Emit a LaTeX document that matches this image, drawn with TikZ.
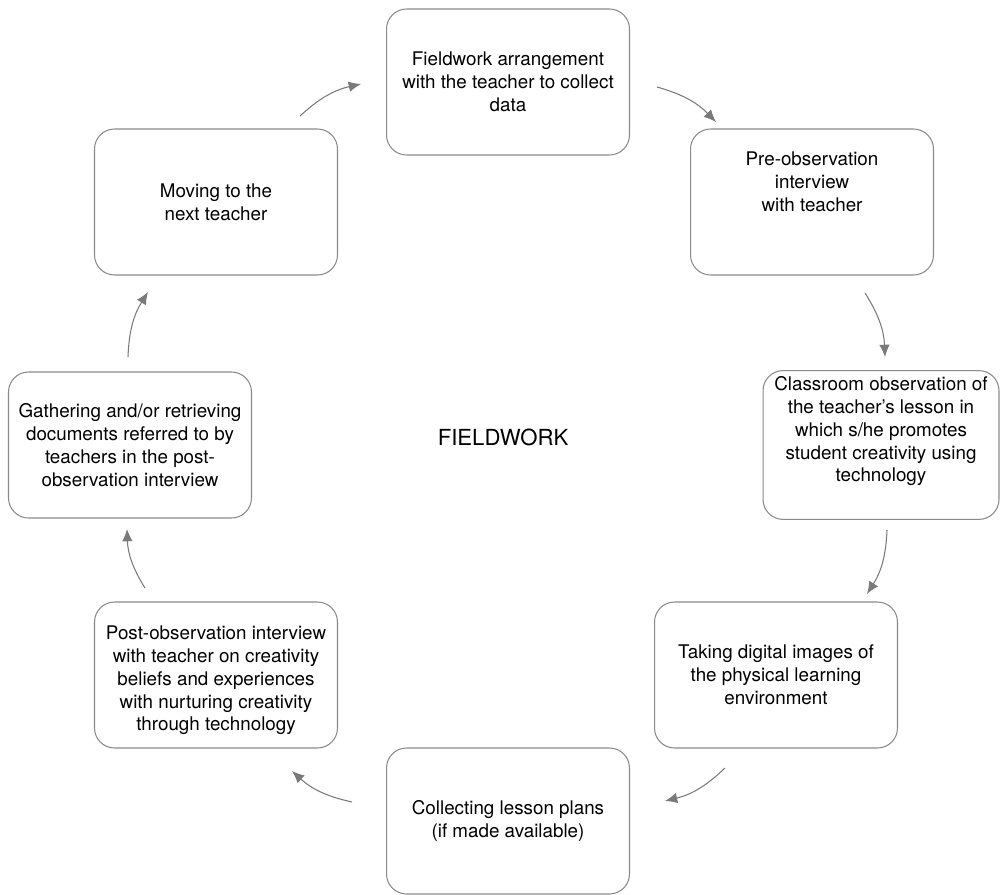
\documentclass[tikz,border=0pt]{standalone}
\usepackage{fontspec}
\setmainfont{TeX Gyre Heros}
\usetikzlibrary{arrows.meta,positioning}
\usepackage{xcolor}
\definecolor{boxline}{HTML}{8A8A8A}
\definecolor{arrowline}{HTML}{7A7A7A}

\begin{document}
\begin{tikzpicture}[
            x = 0.02cm,
            y = -0.02cm,
            stage/.style={
                draw = boxline,
                line width = 0.6pt,
                rectangle,
                rounded corners = 0.4cm,
                minimum width = 4.86cm,
                minimum height = 2.92cm,
                align = center,
                font = \fontsize{10.7}{13}\selectfont
            },
            flow/.style={
                draw = arrowline,
                line width = 0.6pt,
                -{Latex[length=7pt,width=6pt]},
                bend left = 15
            }
        ]
        \useasboundingbox (0,0) rectangle (1000,895);

        \node[stage] (arrange) at (508,82) {Fieldwork arrangement\\with the teacher to collect\\data};
        \node[stage] (preobs) at (812,202) {Pre-observation\\interview\\with teacher\rule[-23pt]{0pt}{23pt}};
        \node[stage, minimum width = 4.72cm] (classobs) at (881,445) {Classroom observation of\\the teacher’s lesson in\\which s/he promotes\\student creativity using\\technology\rule[-18pt]{0pt}{18pt}};
        \node[stage] (images) at (776,675) {Taking digital images of\\the physical learning\\environment};
        \node[stage] (plans) at (508,821) {Collecting lesson plans\\(if made available)};
        \node[stage] (postobs) at (216,675) {\rule{0pt}{14pt}Post-observation interview\\with teacher on creativity\\beliefs and experiences\\with nurturing creativity\\through technology};
        \node[stage] (documents) at (130,445) {Gathering and/or retrieving\\documents referred to by\\teachers in the post-\\observation interview};
        \node[stage] (nextteacher) at (216,202) {Moving to the\\next teacher};

        \node[font = \fontsize{12.6}{15}\selectfont] (fieldwork) at (503,437) {FIELDWORK};

        \coordinate (a1s) at (300,116);
        \coordinate (a1e) at (361,84);
        \coordinate (a2s) at (657,87);
        \coordinate (a2e) at (716,122);
        \coordinate (a3s) at (865,293);
        \coordinate (a3e) at (885,357);
        \coordinate (a4s) at (887,530);
        \coordinate (a4e) at (867,594);
        \coordinate (a5s) at (725,768);
        \coordinate (a5e) at (665,801);
        \coordinate (a6s) at (352,802);
        \coordinate (a6e) at (292,771);
        \coordinate (a7s) at (145,588);
        \coordinate (a7e) at (127,529);
        \coordinate (a8s) at (128,357);
        \coordinate (a8e) at (148,292);

        \draw[flow] (a1s) to (a1e);
        \draw[flow] (a2s) to (a2e);
        \draw[flow] (a3s) to (a3e);
        \draw[flow] (a4s) to (a4e);
        \draw[flow] (a5s) to (a5e);
        \draw[flow] (a6s) to (a6e);
        \draw[flow] (a7s) to (a7e);
        \draw[flow] (a8s) to (a8e);
    \end{tikzpicture}
\end{document}
